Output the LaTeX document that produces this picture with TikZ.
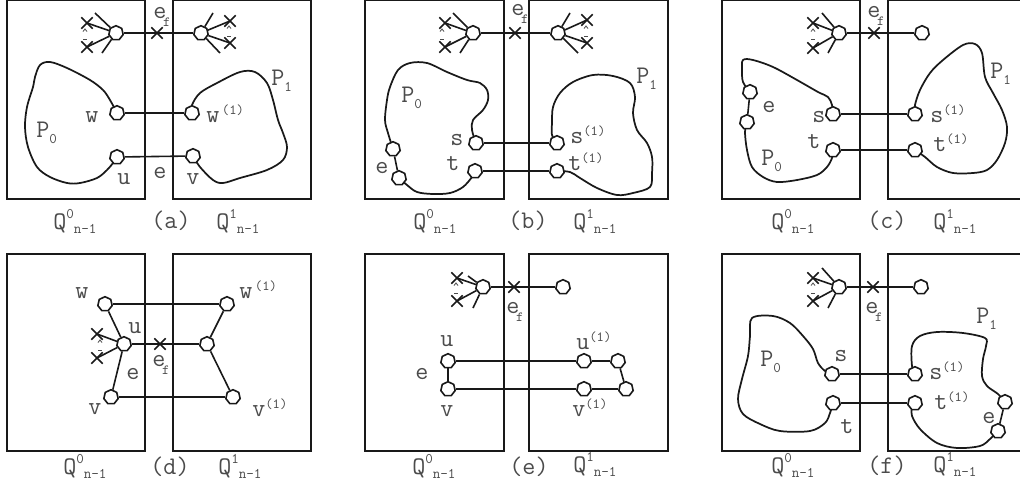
\documentclass[tikz,border=0pt]{standalone}
\usetikzlibrary{shapes.geometric,shapes.misc,backgrounds}
\definecolor{ink}{RGB}{25,25,25}
\definecolor{txt}{RGB}{75,75,75}
\newcommand{\lb}{\fontsize{19}{19}\selectfont\ttfamily}
\newcommand{\up}[1]{\raisebox{6pt}{\fontsize{10.5}{10.5}\selectfont #1}}
\newcommand{\dn}[1]{\raisebox{-4.5pt}{\fontsize{11}{11}\selectfont #1}}
\newcommand{\ef}{e\kern-2.5pt\raisebox{-6.5pt}{\fontsize{10.5}{10.5}\selectfont f}}
\newcommand{\Qlab}[1]{Q\raisebox{8pt}{\fontsize{11}{11}\selectfont #1}\raisebox{-3pt}{\fontsize{11}{11}\selectfont n-1}}
\tikzset{
  cubebox/.style={draw=ink, line width=1.3pt},
  vtx/.style={draw=ink, fill=white, regular polygon, regular polygon sides=7,
    minimum size=11pt, inner sep=0pt, line width=1.2pt},
  xm/.style={draw=ink, cross out, minimum size=7.5pt, inner sep=0pt, line width=1.1pt},
  conn/.style={draw=ink, line width=1.2pt},
  blob/.style={draw=ink, line width=1.3pt, line join=round, smooth, tension=0.55},
  lbl/.style={text=txt, font=\lb, inner sep=0pt, anchor=base},
  tick/.style={draw=txt, line width=0.6pt},
  elides/.pic={\draw[tick] (-2,1.5) -- (0,-1) -- (2,1.5); \draw[tick] (-2,9) -- (2,9);}
}
\begin{document}
\begin{tikzpicture}[x=0.75pt,y=-0.75pt]
\useasboundingbox (0,0) rectangle (1020,493);
\clip (0,0) rectangle (1020,493);

% ---------------- (a) ----------------
\draw[cubebox] (7,0) rectangle (145,199);
\draw[cubebox] (173,0) rectangle (311,199);
\node[vtx] (a-h0) at (116,33) {};
\node[vtx] (a-h1) at (201,33) {};
\node[xm] (a-xf) at (157,33) {};
\node[xm] (a-x1) at (87,23) {};
\node[xm] (a-x2) at (87,47) {};
\node[xm] (a-x3) at (230,21) {};
\node[xm] (a-x4) at (230,43) {};
\coordinate (a-f1) at (95,13);
\coordinate (a-f2) at (102,53);
\coordinate (a-f3) at (213,13);
\coordinate (a-f4) at (220,53);
\draw[conn] (a-h0) -- (a-h1);
\draw[conn] (a-h0) -- (a-x1.center) (a-h0) -- (a-x2.center) (a-h0) -- (a-f1) (a-h0) -- (a-f2);
\draw[conn] (a-h1) -- (a-x3.center) (a-h1) -- (a-x4.center) (a-h1) -- (a-f3) (a-h1) -- (a-f4);
\pic at (85,30) {elides};
\pic at (229,27) {elides};
\node[vtx] (a-w) at (117,113) {};
\node[vtx] (a-u) at (117,157) {};
\node[vtx] (a-w1) at (192,113) {};
\node[vtx] (a-v) at (193,156) {};
\draw[conn] (a-w) -- (a-w1);
\draw[conn] (a-u) -- (a-v);
\begin{scope}[on background layer]
\draw[blob] plot coordinates {(a-w.center) (110,100) (103,90) (90,80) (67,68) (50,62) (40,65) (35,77) (33,87) (27,107) (25,127) (28,147) (37,167) (50,177) (67,183) (80,183) (97,178) (107,170) (113,163) (a-u.center)};
\draw[blob] plot coordinates {(a-w1.center) (192,105) (200,93) (217,83) (240,72) (255,72) (267,83) (273,100) (278,120) (283,133) (287,147) (283,160) (267,170) (240,178) (223,183) (213,180) (200,167) (a-v.center)};
\end{scope}
\node[lbl] (a-lef) at (162,18) {\ef};
\node[lbl] (a-lw) at (92,122) {w};
\node[lbl] (a-lu) at (124,184) {u};
\node[lbl] (a-le) at (160,178) {e};
\node[lbl] (a-lv) at (193,184) {v};
\node[lbl, anchor=base west] (a-lw1) at (206,122) {w\kern2pt\up{(1)}};
\node[lbl, anchor=base west] (a-lp0) at (36,137) {P\dn{0}};
\node[lbl, anchor=base west] (a-lp1) at (271,85) {P\dn{1}};
\node[lbl, anchor=base west] (a-q0) at (53,229) {\Qlab{0}};
\node[lbl] (a-cap) at (171,228) {(a)};
\node[lbl, anchor=base west] (a-q1) at (216,229) {\Qlab{1}};

% ---------------- (b) ----------------
\draw[cubebox] (365,0) rectangle (504,199);
\draw[cubebox] (529,0) rectangle (668,199);
\node[vtx] (b-h0) at (473,33) {};
\node[vtx] (b-h1) at (558,33) {};
\node[xm] (b-xf) at (515,33) {};
\node[xm] (b-x1) at (445,23) {};
\node[xm] (b-x2) at (445,47) {};
\node[xm] (b-x3) at (587,20) {};
\node[xm] (b-x4) at (587,43) {};
\coordinate (b-f1) at (453,13);
\coordinate (b-f2) at (460,53);
\coordinate (b-f3) at (570,13);
\coordinate (b-f4) at (578,53);
\draw[conn] (b-h0) -- (b-h1);
\draw[conn] (b-h0) -- (b-x1.center) (b-h0) -- (b-x2.center) (b-h0) -- (b-f1) (b-h0) -- (b-f2);
\draw[conn] (b-h1) -- (b-x3.center) (b-h1) -- (b-x4.center) (b-h1) -- (b-f3) (b-h1) -- (b-f4);
\pic at (442,30) {elides};
\pic at (586,27) {elides};
\node[vtx] (b-s) at (476,143) {};
\node[vtx] (b-t) at (475,171) {};
\node[vtx] (b-e1) at (393,149) {};
\node[vtx] (b-e2) at (399,178) {};
\node[vtx] (b-s1) at (557,143) {};
\node[vtx] (b-t1) at (557,171) {};
\draw[conn] (b-s) -- (b-s1);
\draw[conn] (b-t) -- (b-t1);
\draw[conn] (b-e1) -- (b-e2);
\begin{scope}[on background layer]
\draw[blob] plot coordinates {(b-s.center) (472,130) (473,120) (483,110) (488,100) (487,90) (480,83) (467,80) (447,72) (427,63) (410,63) (398,70) (390,87) (387,100) (385,120) (388,133) (b-e1.center)};
\draw[blob] plot coordinates {(b-e2.center) (407,185) (417,192) (433,194) (450,193) (463,187) (472,177) (b-t.center)};
\draw[blob] plot coordinates {(b-s1.center) (552,135) (552,123) (553,107) (560,93) (573,82) (593,75) (613,76) (630,83) (635,97) (633,113) (637,130) (647,143) (652,157) (652,173) (650,187) (633,193) (617,195) (597,188) (580,178) (570,172) (b-t1.center)};
\end{scope}
\node[lbl] (b-lef) at (520,15) {\ef};
\node[lbl, anchor=base west] (b-lp0) at (401,102) {P\dn{0}};
\node[lbl] (b-ls) at (457,145) {s};
\node[lbl] (b-lt) at (453,170) {t};
\node[lbl] (b-le) at (382,173) {e};
\node[lbl, anchor=base west] (b-ls1) at (570,143) {s\up{(1)}};
\node[lbl, anchor=base west] (b-lt1) at (568,170) {t\up{(1)}};
\node[lbl, anchor=base west] (b-lp1) at (636,83) {P\dn{1}};
\node[lbl, anchor=base west] (b-q0) at (413,229) {\Qlab{0}};
\node[lbl] (b-cap) at (528,228) {(b)};
\node[lbl, anchor=base west] (b-q1) at (573,229) {\Qlab{1}};

% ---------------- (c) ----------------
\draw[cubebox] (722,0) rectangle (860,199);
\draw[cubebox] (888,0) rectangle (1030,199);
\node[vtx] (c-h0) at (839,33) {};
\node[vtx] (c-h1) at (922,33) {};
\node[xm] (c-xf) at (874,33) {};
\node[xm] (c-x1) at (813,23) {};
\node[xm] (c-x2) at (813,48) {};
\coordinate (c-f1) at (822,13);
\coordinate (c-f2) at (828,53);
\draw[conn] (c-h0) -- (c-h1);
\draw[conn] (c-h0) -- (c-x1.center) (c-h0) -- (c-x2.center) (c-h0) -- (c-f1) (c-h0) -- (c-f2);
\pic at (813,30) {elides};
\node[vtx] (c-s) at (833,114) {};
\node[vtx] (c-t) at (833,150) {};
\node[vtx] (c-e1) at (750,92) {};
\node[vtx] (c-e2) at (747,122) {};
\node[vtx] (c-s1) at (915,114) {};
\node[vtx] (c-t1) at (915,150) {};
\draw[conn] (c-s) -- (c-s1);
\draw[conn] (c-t) -- (c-t1);
\draw[conn] (c-e1) -- (c-e2);
\begin{scope}[on background layer]
\draw[blob] plot coordinates {(c-s.center) (832,105) (828,97) (818,92) (797,80) (773,67) (753,60) (743,60) (742,70) (743,82) (c-e1.center)};
\draw[blob] plot coordinates {(c-e2.center) (745,132) (747,150) (752,167) (763,177) (777,182) (797,180) (817,175) (827,167) (832,158) (c-t.center)};
\draw[blob] plot coordinates {(c-s1.center) (915,105) (920,90) (930,73) (943,60) (963,45) (975,44) (982,53) (985,77) (993,93) (1002,110) (1007,127) (1005,143) (997,160) (987,170) (973,173) (953,173) (937,167) (925,157) (c-t1.center)};
\end{scope}
\node[lbl] (c-lef) at (876,17) {\ef};
\node[lbl] (c-le) at (769,112) {e};
\node[lbl] (c-ls) at (819,122) {s};
\node[lbl] (c-lt) at (814,148) {t};
\node[lbl, anchor=base west] (c-lp0) at (761,165) {P\dn{0}};
\node[lbl, anchor=base west] (c-ls1) at (930,122) {s\up{(1)}};
\node[lbl, anchor=base west] (c-lt1) at (933,151) {t\up{(1)}};
\node[lbl, anchor=base west] (c-lp1) at (990,78) {P\dn{1}};
\node[lbl, anchor=base west] (c-q0) at (771,229) {\Qlab{0}};
\node[lbl] (c-cap) at (887,228) {(c)};
\node[lbl, anchor=base west] (c-q1) at (933,229) {\Qlab{1}};

% ---------------- (d) ----------------
\draw[cubebox] (7,254) rectangle (145,451);
\draw[cubebox] (173,254) rectangle (311,451);
\node[vtx] (d-w) at (105,304) {};
\node[vtx] (d-u) at (124,344) {};
\node[vtx] (d-v) at (111,397) {};
\node[vtx] (d-w1) at (227,304) {};
\node[vtx] (d-m1) at (207,344) {};
\node[vtx] (d-v1) at (233,397) {};
\node[xm] (d-xf) at (160,344) {};
\node[xm] (d-x1) at (97,334) {};
\node[xm] (d-x2) at (97,358) {};
\draw[conn] (d-w) -- (d-w1);
\draw[conn] (d-v) -- (d-v1);
\draw[conn] (d-u) -- (d-m1);
\draw[conn] (d-u) -- (d-w);
\draw[conn] (d-u) -- (d-v);
\draw[conn] (d-m1) -- (d-w1);
\draw[conn] (d-m1) -- (d-v1);
\draw[conn] (d-u) -- (d-x1.center) (d-u) -- (d-x2.center);
\pic at (100,341) {elides};
\node[lbl] (d-lw) at (82,298) {w};
\node[lbl] (d-lu) at (135,333) {u};
\node[lbl] (d-le) at (133,379) {e};
\node[lbl] (d-lv) at (95,414) {v};
\node[lbl] (d-lef) at (161,366) {\ef};
\node[lbl, anchor=base west] (d-lw1) at (239,298) {w\kern2pt\up{(1)}};
\node[lbl, anchor=base west] (d-lv1) at (252,416) {v\up{(1)}};
\node[lbl, anchor=base west] (d-q0) at (63,474) {\Qlab{0}};
\node[lbl] (d-cap) at (170,474) {(d)};
\node[lbl, anchor=base west] (d-q1) at (218,474) {\Qlab{1}};

% ---------------- (e) ----------------
\draw[cubebox] (365,254) rectangle (504,451);
\draw[cubebox] (529,254) rectangle (668,451);
\node[vtx] (e-h0) at (483,287) {};
\node[vtx] (e-h1) at (563,287) {};
\node[xm] (e-xf) at (514,287) {};
\node[xm] (e-x1) at (457,278) {};
\node[xm] (e-x2) at (457,301) {};
\coordinate (e-f1) at (468,276);
\coordinate (e-f2) at (473,308);
\draw[conn] (e-h0) -- (e-h1);
\draw[conn] (e-h0) -- (e-x1.center) (e-h0) -- (e-x2.center) (e-h0) -- (e-f1) (e-h0) -- (e-f2);
\pic at (456,284) {elides};
\node[vtx] (e-u) at (448,361) {};
\node[vtx] (e-v) at (448,389) {};
\node[vtx] (e-u1) at (584,361) {};
\node[vtx] (e-ur) at (618,361) {};
\node[vtx] (e-v1) at (584,389) {};
\node[vtx] (e-vr) at (626,389) {};
\draw[conn] (e-u) -- (e-v);
\draw[conn] (e-u) -- (e-u1);
\draw[conn] (e-u1) -- (e-ur);
\draw[conn] (e-ur) -- (e-vr);
\draw[conn] (e-v) -- (e-v1);
\draw[conn] (e-v1) -- (e-vr);
\node[lbl] (e-lu) at (447,346) {u};
\node[lbl] (e-le) at (422,379) {e};
\node[lbl] (e-lv) at (447,416) {v};
\node[lbl] (e-lef) at (515,313) {\ef};
\node[lbl, anchor=base west] (e-lu1) at (576,349) {u\up{(1)}};
\node[lbl, anchor=base west] (e-lv1) at (572,416) {v\up{(1)}};
\node[lbl, anchor=base west] (e-q0) at (412,474) {\Qlab{0}};
\node[lbl] (e-cap) at (529,474) {(e)};
\node[lbl, anchor=base west] (e-q1) at (573,472) {\Qlab{1}};

% ---------------- (f) ----------------
\draw[cubebox] (722,254) rectangle (860,451);
\draw[cubebox] (888,254) rectangle (1030,451);
\node[vtx] (f-h0) at (839,287) {};
\node[vtx] (f-h1) at (921,287) {};
\node[xm] (f-xf) at (873,287) {};
\node[xm] (f-x1) at (813,278) {};
\node[xm] (f-x2) at (813,301) {};
\coordinate (f-f1) at (822,268);
\coordinate (f-f2) at (828,308);
\draw[conn] (f-h0) -- (f-h1);
\draw[conn] (f-h0) -- (f-x1.center) (f-h0) -- (f-x2.center) (f-h0) -- (f-f1) (f-h0) -- (f-f2);
\pic at (813,284) {elides};
\node[vtx] (f-s) at (832,374) {};
\node[vtx] (f-t) at (833,403) {};
\node[vtx] (f-s1) at (915,374) {};
\node[vtx] (f-t1) at (915,403) {};
\node[vtx] (f-e1) at (1005,402) {};
\node[vtx] (f-e2) at (998,431) {};
\draw[conn] (f-s) -- (f-s1);
\draw[conn] (f-t) -- (f-t1);
\draw[conn] (f-e1) -- (f-e2);
\begin{scope}[on background layer]
\draw[blob] plot coordinates {(f-s.center) (825,371) (818,363) (813,349) (803,336) (790,323) (773,316) (752,318) (750,336) (748,356) (742,379) (738,399) (743,414) (760,424) (780,431) (810,431) (825,423) (830,413) (f-t.center)};
\draw[blob] plot coordinates {(f-s1.center) (912,366) (912,346) (920,336) (937,332) (963,333) (985,338) (986,346) (983,359) (982,376) (987,386) (998,394) (f-e1.center)};
\draw[blob] plot coordinates {(f-e2.center) (990,439) (980,446) (957,448) (937,443) (920,429) (912,416) (912,408) (f-t1.center)};
\end{scope}
\node[lbl] (f-ls) at (841,361) {s};
\node[lbl] (f-lt) at (847,433) {t};
\node[lbl, anchor=base west] (f-lp0) at (760,366) {P\dn{0}};
\node[lbl] (f-lef) at (874,313) {\ef};
\node[lbl, anchor=base west] (f-lp1) at (976,323) {P\dn{1}};
\node[lbl, anchor=base west] (f-ls1) at (929,379) {s\up{(1)}};
\node[lbl, anchor=base west] (f-lt1) at (934,409) {t\up{(1)}};
\node[lbl] (f-le) at (989,423) {e};
\node[lbl, anchor=base west] (f-q0) at (771,473) {\Qlab{0}};
\node[lbl] (f-cap) at (887,473) {(f)};
\node[lbl, anchor=base west] (f-q1) at (933,472) {\Qlab{1}};
\end{tikzpicture}
\end{document}
